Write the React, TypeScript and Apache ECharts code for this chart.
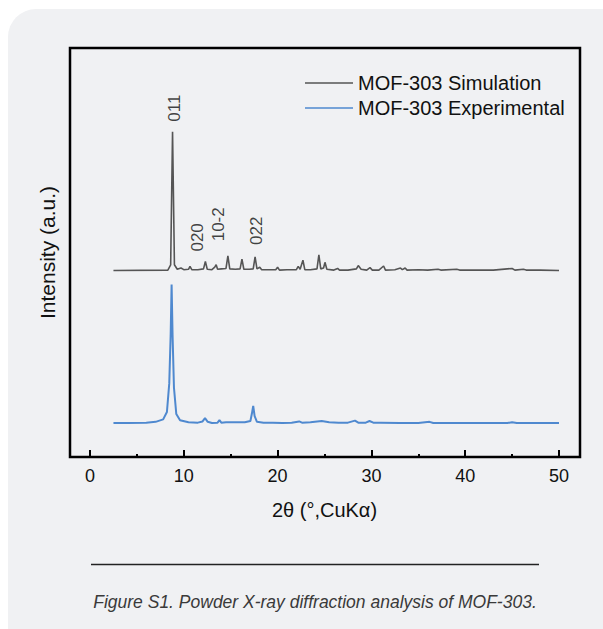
import React, { useEffect, useRef } from "react";
import * as echarts from "echarts";

// 2θ (degrees) and relative intensity (arbitrary units, offset traces)
const simTheta = [
  2.5, 8.3, 8.6, 8.8, 9.0, 9.3, 9.7, 10.0, 10.5, 10.66, 10.85, 11.5, 12.1, 12.3, 12.5,
  13.0, 13.3, 13.45, 13.6, 14.0, 14.5, 14.7, 14.9, 15.5, 16.0, 16.2, 16.4, 17.0, 17.4,
  17.6, 17.8, 18.1, 18.3, 19.0, 19.8, 20.0, 20.2, 21.0, 22.0, 22.2, 22.4, 22.7, 22.9,
  23.5, 24.2, 24.4, 24.6, 24.9, 25.05, 25.25, 26.0, 26.4, 26.6, 27.5, 28.4, 28.6, 28.9,
  29.5, 29.85, 30.1, 30.8, 31.3, 31.5, 32.5, 33.1, 33.3, 33.6, 33.8, 35.0, 36.0, 37.1,
  37.4, 39.1, 39.4, 41.0, 43.0, 45.0, 45.3, 46.2, 46.5, 48.0, 50.0,
];
const simIntensity = [
  45.6, 45.7, 47.0, 79.5, 47.0, 45.9, 46.2, 45.8, 45.9, 46.6, 45.8, 45.8, 46.0, 47.8, 45.9,
  45.8, 46.4, 47.0, 45.9, 46.0, 46.1, 49.2, 46.0, 45.9, 46.0, 48.4, 45.9, 45.9, 46.0,
  48.9, 46.0, 46.4, 45.8, 45.8, 45.8, 46.4, 45.7, 45.8, 45.8, 46.6, 45.9, 48.1, 45.8,
  45.8, 46.0, 49.4, 46.0, 46.2, 47.6, 45.9, 45.7, 46.1, 45.7, 45.7, 46.0, 46.8, 45.9,
  45.7, 46.3, 45.7, 45.7, 46.7, 45.7, 45.8, 46.2, 45.8, 46.2, 45.7, 45.8, 45.7, 45.9,
  45.7, 45.9, 45.7, 45.7, 45.7, 46.1, 45.7, 45.9, 45.7, 45.7, 45.6,
];

const expTheta = [
  2.5, 4.0, 6.0, 7.0, 7.8, 8.2, 8.45, 8.6, 8.7, 8.8, 8.95, 9.2, 9.6, 10.5, 11.5, 12.0,
  12.26, 12.55, 13.0, 13.6, 13.8, 14.0, 14.5, 15.5, 16.5, 17.1, 17.25, 17.4, 17.55, 17.8,
  18.5, 19.5, 20.5, 21.5, 22.3, 22.6, 23.5, 24.7, 25.5, 26.5, 27.5, 28.25, 28.6, 29.4,
  29.8, 30.2, 31.0, 33.0, 35.0, 36.2, 36.6, 40.0, 44.5, 45.0, 45.5, 50.0,
];
const expIntensity = [
  8.3, 8.3, 8.4, 8.6, 9.2, 11.0, 18.0, 30.0, 42.2, 30.0, 17.0, 10.5, 9.0, 8.5, 8.4, 8.7,
  9.5, 8.6, 8.3, 8.4, 9.0, 8.4, 8.5, 8.5, 8.5, 8.8, 10.5, 12.5, 10.0, 8.6,
  8.4, 8.4, 8.3, 8.4, 8.7, 8.4, 8.5, 8.8, 8.5, 8.4, 8.4, 8.9, 8.4, 8.4,
  8.8, 8.4, 8.4, 8.3, 8.3, 8.6, 8.3, 8.3, 8.3, 8.5, 8.3, 8.3,
];

// Miller-index annotations: label, 2θ anchor, intensity anchor
const peakLabels = ["011", "020", "10-2", "022"];
const peakLabelTheta = [8.96, 11.5, 13.75, 17.7];
const peakLabelIntensity = [85.3, 53.7, 56.9, 55.3];

const xTicks = [0, 10, 20, 30, 40, 50];

const seriesNames = ["MOF-303 Simulation", "MOF-303 Experimental"];
const caption = "Figure S1. Powder X-ray diffraction analysis of MOF-303.";

const FONT = "'Liberation Sans', Arial, Helvetica, sans-serif";

export default function App() {
  const ref = useRef<HTMLDivElement>(null);

  useEffect(() => {
    if (!ref.current) return;
    const chart = echarts.init(ref.current, null, { renderer: "svg" });
    const sim = simTheta.map((t, i) => [t, simIntensity[i]]);
    const exp = expTheta.map((t, i) => [t, expIntensity[i]]);
    const labels = peakLabels.map((n, i) => ({
      name: n,
      value: [peakLabelTheta[i], peakLabelIntensity[i]],
    }));

    chart.setOption({
      animation: false,
      backgroundColor: "transparent",
      grid: [
        { left: 90, right: 44, top: 48, bottom: 172, show: false },
        {
          left: 70,
          right: 23,
          top: 48,
          bottom: 172,
          show: true,
          borderColor: "#000",
          borderWidth: 2.5,
          backgroundColor: "transparent",
          z: 5,
        },
      ],
      xAxis: [
        {
          type: "value",
          gridIndex: 0,
          min: 0,
          max: 50,
          interval: 10,
          axisLine: { show: false },
          axisTick: { show: true, inside: true, length: 7, lineStyle: { color: "#000", width: 2 } },
          minorTick: { show: true, splitNumber: 2, length: 3, lineStyle: { color: "#000", width: 2 } },
          splitLine: { show: false },
          axisLabel: {
            show: true,
            margin: 10,
            fontSize: 18,
            color: "#111",
            fontFamily: FONT,
            customValues: xTicks,
          },
          name: "2θ (°,CuKα)",
          nameLocation: "middle",
          nameGap: 43,
          nameTextStyle: { fontSize: 20, color: "#111", fontFamily: FONT },
        },
        { type: "value", gridIndex: 1, show: false, min: 0, max: 1 },
      ],
      yAxis: [
        { type: "value", gridIndex: 0, show: false, min: 0, max: 100 },
        {
          type: "value",
          gridIndex: 1,
          show: true,
          min: 0,
          max: 1,
          axisLine: { show: false },
          axisTick: { show: false },
          axisLabel: { show: false },
          splitLine: { show: false },
          name: "Intensity (a.u.)",
          nameLocation: "middle",
          nameGap: 12,
          nameTextStyle: { fontSize: 21, color: "#111", fontFamily: FONT },
        },
      ],
      legend: {
        data: seriesNames,
        orient: "vertical",
        left: 305,
        top: 73,
        padding: 0,
        icon: "rect",
        itemWidth: 48,
        itemHeight: 1.6,
        itemGap: 5,
        textStyle: { fontSize: 20, lineHeight: 20, color: "#111", fontFamily: FONT },
      },
      series: [
        {
          name: seriesNames[0],
          type: "line",
          xAxisIndex: 0,
          yAxisIndex: 0,
          data: sim,
          symbol: "none",
          color: "#555555",
          lineStyle: { color: "#555555", width: 1.6 },
          z: 3,
        },
        {
          name: seriesNames[1],
          type: "line",
          xAxisIndex: 0,
          yAxisIndex: 0,
          data: exp,
          symbol: "none",
          color: "#4f89cf",
          lineStyle: { color: "#4f89cf", width: 2 },
          z: 3,
        },
        {
          name: "labels",
          type: "scatter",
          xAxisIndex: 0,
          yAxisIndex: 0,
          data: labels,
          symbolSize: 0,
          silent: true,
          label: {
            show: true,
            position: "inside",
            rotate: 90,
            formatter: (p: any) => p.name,
            fontSize: 17,
            color: "#111",
            fontFamily: FONT,
          },
        },
      ],
      graphic: [
        {
          type: "line",
          shape: { x1: 91, y1: 564.5, x2: 539, y2: 564.5 },
          style: { stroke: "#222", lineWidth: 1.5 },
        },
        {
          type: "text",
          x: 315,
          y: 602,
          style: {
            text: caption,
            fill: "#3a3a3a",
            font: "italic 17.5px " + FONT,
            textAlign: "center",
            textVerticalAlign: "middle",
          },
        },
      ],
    });
    return () => chart.dispose();
  }, []);

  return (
    <div
      style={{
        position: "absolute",
        left: 0,
        top: 0,
        width: 603,
        height: 629,
        overflow: "hidden",
        background: "#ffffff",
      }}
    >
      <div
        style={{
          position: "absolute",
          left: 8,
          top: 9,
          width: 640,
          height: 650,
          borderRadius: 28,
          background: "#f0f1f3",
        }}
      />
      <div ref={ref} style={{ position: "absolute", left: 0, top: 0, width: 603, height: 629 }} />
    </div>
  );
}
